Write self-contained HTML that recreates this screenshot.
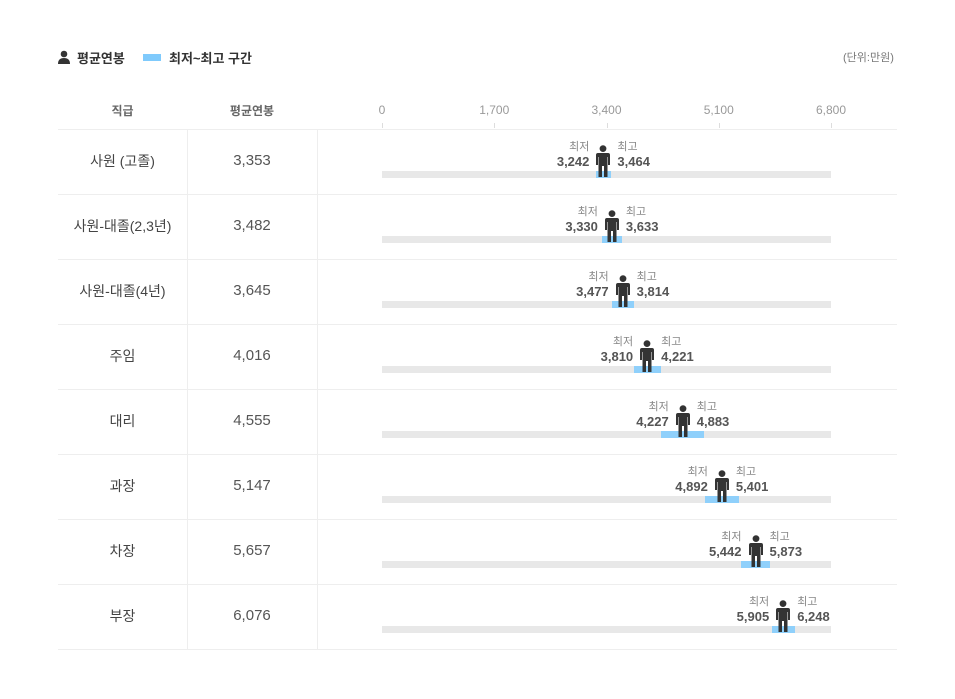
<!DOCTYPE html>
<html><head><meta charset="utf-8"><style>
body{margin:0;width:955px;height:699px;background:#fff;font-family:"Liberation Sans","Noto Sans CJK KR",sans-serif;position:relative;overflow:hidden}
.a{position:absolute;white-space:nowrap}
.hl{position:absolute;left:58px;width:839px;height:1px;background:#eee}
.vl{position:absolute;width:1px;background:#eee}
.c1,.c2{position:absolute;text-align:center;font-size:14px;color:#444}
.c1{left:58px;width:129px}.c2{left:187px;width:130px;font-size:15px;color:#555}
.track{position:absolute;left:382px;width:449px;height:7px;background:#e8e8e8}
.rng{position:absolute;height:7px;background:#8fd0fb}
.lb{position:absolute;font-size:11px;color:#888}
.vv{position:absolute;font-size:13px;font-weight:bold;color:#555}
.tk{position:absolute;font-size:12px;color:#999;width:60px;text-align:center;top:103px}
.tm{position:absolute;width:1px;height:5px;background:#ddd;top:123px}
</style></head><body>
<svg class="a" style="left:57px;top:50px" width="14" height="14" viewBox="0 0 14 14"><circle cx="7" cy="4" r="3.3" fill="#333"/><path d="M1 14 Q1 8 7 8 Q13 8 13 14Z" fill="#333"/></svg>
<div class="a" style="left:77px;top:48px;font-size:13px;font-weight:bold;color:#333">평균연봉</div>
<div class="a" style="left:143px;top:54px;width:18px;height:7px;background:#7fcafc"></div>
<div class="a" style="left:169px;top:48px;font-size:13px;font-weight:bold;color:#333">최저~최고 구간</div>
<div class="a" style="left:843px;top:49px;font-size:11px;color:#777">(단위:만원)</div>
<div class="c1" style="top:102px;font-size:12px;color:#666;font-weight:bold">직급</div>
<div class="c2" style="top:102px;font-size:12px;color:#666;font-weight:bold">평균연봉</div>
<div id="g"></div>
<script>
var X=function(v){return 382+v*449/6800};
var h='';
[0,1700,3400,5100,6800].forEach(function(t){var x=X(t);h+='<div class="tk" style="left:'+(x-30)+'px">'+t.toLocaleString('en-US')+'</div><div class="tm" style="left:'+Math.round(x)+'px"></div>';});
var d=[["사원 (고졸)",3353,3242,3464],["사원-대졸(2,3년)",3482,3330,3633],["사원-대졸(4년)",3645,3477,3814],["주임",4016,3810,4221],["대리",4555,4227,4883],["과장",5147,4892,5401],["차장",5657,5442,5873],["부장",6076,5905,6248]];
h+='<div class="hl" style="top:129px"></div>';
d.forEach(function(r,i){var t=129+i*65;var f=function(n){return n.toLocaleString('en-US')};
h+='<div class="hl" style="top:'+(t+65)+'px"></div>';
h+='<div class="vl" style="left:187px;top:'+(t+1)+'px;height:64px"></div><div class="vl" style="left:317px;top:'+(t+1)+'px;height:64px"></div>';
h+='<div class="c1" style="top:'+(t+22)+'px">'+r[0]+'</div><div class="c2" style="top:'+(t+23)+'px">'+f(r[1])+'</div>';
h+='<div class="track" style="top:'+(t+42)+'px"></div>';
var a=X(r[2]),b=X(r[3]),m=X(r[1]);
h+='<div class="rng" style="top:'+(t+42)+'px;left:'+a+'px;width:'+(b-a)+'px"></div>';
h+='<svg class="a" style="left:'+(m-8)+'px;top:'+(t+16)+'px" width="16" height="33" viewBox="0 0 16 33"><circle cx="8" cy="3.6" r="3.4" fill="#333"/><path d="M3 8 H13 Q15 8 15 10 V20 H13 V12 H12.5 V32 H9 V21 H7 V32 H3.5 V12 H3 V20 H1 V10 Q1 8 3 8Z" fill="#333"/></svg>';
h+='<div class="lb" style="left:'+(m-44)+'px;width:30px;text-align:right;top:'+(t+9)+'px">최저</div>';
h+='<div class="vv" style="left:'+(m-74)+'px;width:60px;text-align:right;top:'+(t+25)+'px">'+f(r[2])+'</div>';
h+='<div class="lb" style="left:'+(m+14)+'px;top:'+(t+9)+'px">최고</div>';
h+='<div class="vv" style="left:'+(m+14)+'px;top:'+(t+25)+'px">'+f(r[3])+'</div>';
});
document.getElementById('g').innerHTML=h;
</script>
</body></html>
